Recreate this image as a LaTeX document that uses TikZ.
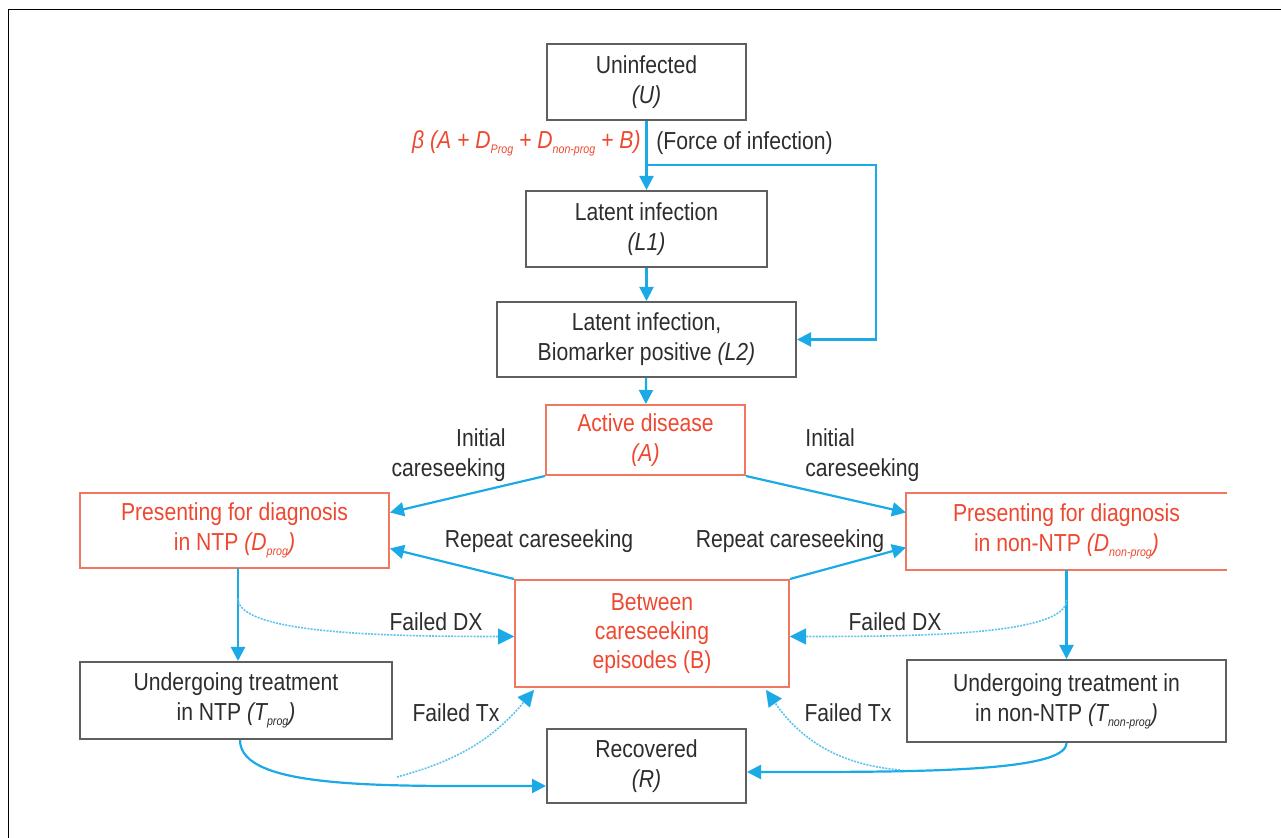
\documentclass[tikz,border=0pt]{standalone}
\usepackage{fontspec}
\setmainfont[FakeStretch=0.86]{Liberation Sans}
\usetikzlibrary{arrows.meta,calc}
\definecolor{ablue}{RGB}{27,170,230}
\definecolor{dblue}{RGB}{95,195,240}
\definecolor{rtext}{RGB}{238,72,48}
\definecolor{rborder}{RGB}{240,120,96}
\definecolor{gborder}{RGB}{95,95,95}
\definecolor{gtext}{RGB}{45,45,45}
\newcommand\sub[1]{\raisebox{-0.4ex}{\fontsize{6.2}{7}\selectfont #1}}
\begin{document}
\begin{tikzpicture}[x=0.5pt,y=-0.5pt,
  font=\fontsize{12.3}{15}\selectfont,
  gbox/.style={draw=gborder, line width=1pt, text=gtext, align=center, inner sep=0pt},
  rbox/.style={draw=rborder, line width=1pt, text=rtext, align=center, inner sep=0pt},
  arr/.style={color=ablue, line width=1.1pt, -{Triangle[length=7pt,width=7pt]}},
  dotarr/.style={color=dblue, line width=0.8pt, dash pattern=on 1pt off 0.6pt, -{Triangle[length=8pt,width=8pt,color=ablue,line width=0.1pt]}},
  lbl/.style={text=gtext, inner sep=0pt}]
\useasboundingbox (0,0) rectangle (1281,838);
\draw[black, line width=0.8pt] (8.5,838) -- (8.5,9.5) -- (1281,9.5);

% nodes
\node[gbox, minimum width=99.5pt, minimum height=38pt] (U) at (646.5,82) {Uninfected\\\textit{(U)}};
\node[gbox, minimum width=120.5pt, minimum height=38pt] (L1) at (646.5,229) {Latent infection\\\textit{(L1)}};
\node[gbox, minimum width=149.5pt, minimum height=37.5pt] (L2) at (646.5,339.5) {Latent infection,\\Biomarker positive \textit{(L2)}};
\node[rbox, minimum width=99.5pt, minimum height=35pt] (A) at (645.5,440) {Active disease\\\textit{(A)}};
\node[rbox, minimum width=154.5pt, minimum height=37.5pt] (Dp) at (234.5,530.5) {Presenting for diagnosis\\in NTP \textit{(D\sub{prog})}};
\node[rbox, draw=none, minimum width=159.5pt, minimum height=37.5pt] (Dn) at (1066.5,531.5) {Presenting for diagnosis\\in non-NTP \textit{(D\sub{non-prog})}};
\draw[rborder, line width=1pt] (Dn.north east) -- (Dn.north west) -- (Dn.south west) -- (Dn.south east);
\node[rbox, minimum width=137pt, minimum height=53.5pt, font=\fontsize{12.3}{14.5}\selectfont] (B) at (652,633.5) {Between\\careseeking\\episodes (B)};
\node[gbox, minimum width=156pt, minimum height=38.5pt] (Tp) at (236,700.5) {Undergoing treatment\\in NTP \textit{(T\sub{prog})}};
\node[gbox, minimum width=159.5pt, minimum height=41pt] (Tn) at (1066.5,701) {Undergoing treatment in\\in non-NTP \textit{(T\sub{non-prog})}};
\node[gbox, minimum width=99.5pt, minimum height=37pt] (R) at (646.5,766) {Recovered\\\textit{(R)}};

% labels
\node[anchor=east, text=rtext, inner sep=0pt] (beta) at (641,143) {\textit{β (A + D\sub{Prog} + D\sub{non-prog} + B)}};
\node[lbl, anchor=west] (foi) at (656,143) {(Force of infection)};
\node[lbl, anchor=east, align=right] (ic1) at (506,455) {Initial\\careseeking};
\node[lbl, anchor=west, align=left] (ic2) at (805,455) {Initial\\careseeking};
\node[lbl] (rc1) at (539,541) {Repeat careseeking};
\node[lbl] (rc2) at (790,541) {Repeat careseeking};
\node[lbl] (fd1) at (436,622) {Failed DX};
\node[lbl] (fd2) at (895,622) {Failed DX};
\node[lbl] (ft1) at (456,713) {Failed Tx};
\node[lbl] (ft2) at (848,713) {Failed Tx};

% connectors
\coordinate (fb) at (646.5,165);
\coordinate (fr) at (876,165);
\coordinate (dpb) at (238,568.5);
\draw[arr] (U) -- (L1);
\draw[arr] (fb) -- (fr) |- (L2.east);
\draw[arr] (L1) -- (L2);
\draw[arr] (L2) -- (A);
\draw[arr] (A.south west) -- ([yshift=9pt]Dp.east);
\draw[arr] (A.south east) -- ([yshift=9.5pt]Dn.west);
\draw[arr] (B.north west) -- ([yshift=-9pt]Dp.east);
\draw[arr] (B.north east) -- ([yshift=-8pt]Dn.west);
\draw[arr] (dpb) -- (dpb |- Tp.north);
\draw[arr] (Dn.south) -- (Dn.south |- Tn.north);
\draw[dotarr] ($(dpb)+(0,30)$) to[out=-90, in=180, out distance=18pt, in distance=60pt] ([yshift=-1.5pt]B.west);
\draw[dotarr] ($(Dn.south)+(0,30)$) to[out=-90, in=0, out distance=18pt, in distance=60pt] ([yshift=-1.5pt]B.east);
\draw[arr] ([xshift=2pt]Tp.south) to[out=-90, in=180, out distance=25pt, in distance=80pt] ([yshift=-10pt]R.west);
\draw[arr] (Tn.south) to[out=-90, in=0, out distance=15pt, in distance=80pt] ([yshift=-3pt]R.east);
\coordinate (ftl) at (397,777);
\coordinate (ftr) at (900,770);
\draw[dotarr] (ftl) to[out=15, in=-130] ($(B.south west)+(20,2)$);
\draw[dotarr] (ftr) to[out=175, in=-55] ($(B.south east)+(-24,2)$);
\end{tikzpicture}
\end{document}
